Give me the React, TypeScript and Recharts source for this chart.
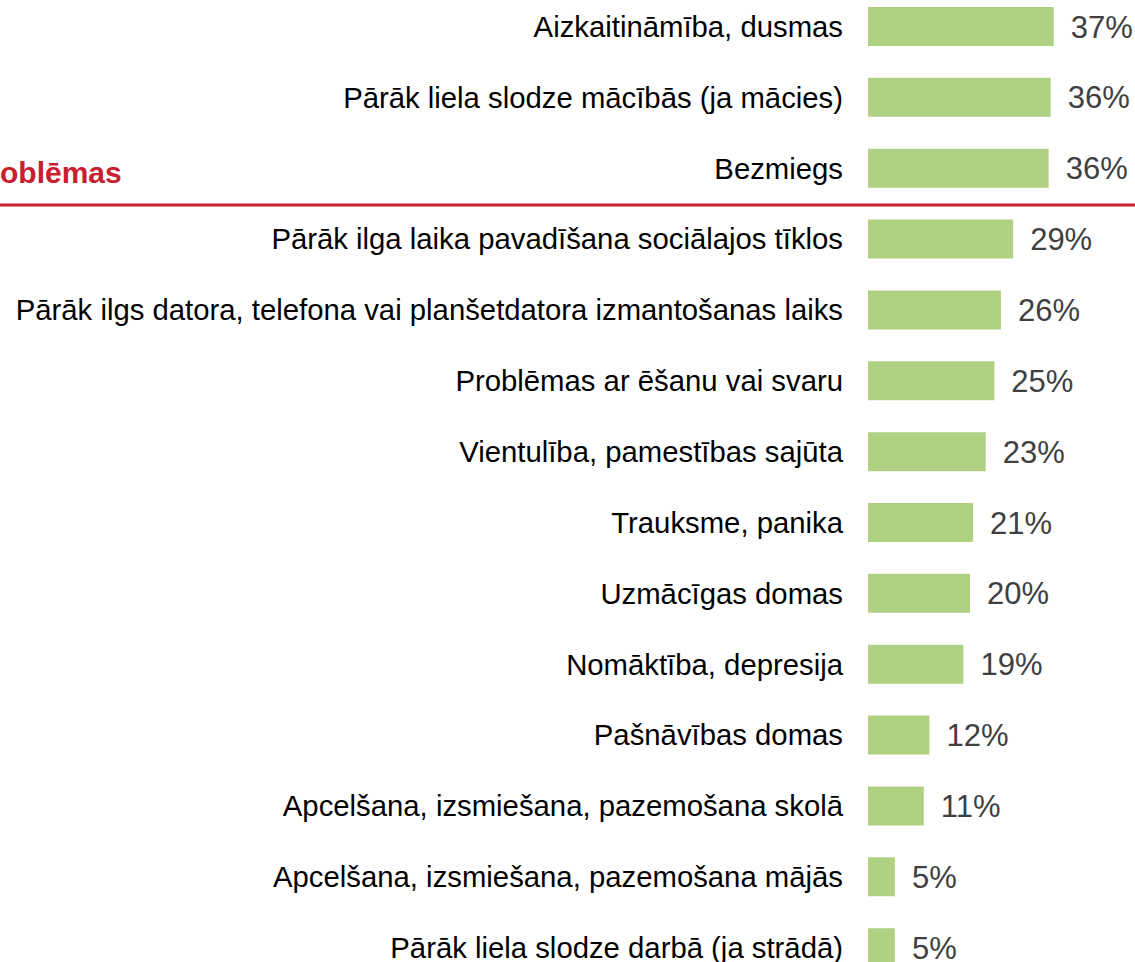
import React from 'react';
import { BarChart, Bar, XAxis, YAxis, LabelList } from 'recharts';

const categories = [
  'Aizkaitināmība, dusmas',
  'Pārāk liela slodze mācībās (ja mācies)',
  'Bezmiegs',
  'Pārāk ilga laika pavadīšana sociālajos tīklos',
  'Pārāk ilgs datora, telefona vai planšetdatora izmantošanas laiks',
  'Problēmas ar ēšanu vai svaru',
  'Vientulība, pamestības sajūta',
  'Trauksme, panika',
  'Uzmācīgas domas',
  'Nomāktība, depresija',
  'Pašnāvības domas',
  'Apcelšana, izsmiešana, pazemošana skolā',
  'Apcelšana, izsmiešana, pazemošana mājās',
  'Pārāk liela slodze darbā (ja strādā)',
];

const values = [36.6, 36.0, 35.6, 28.6, 26.2, 24.9, 23.2, 20.7, 20.1, 18.8, 12.1, 11.0, 5.3, 5.3];

const valueLabels = ['37%', '36%', '36%', '29%', '26%', '25%', '23%', '21%', '20%', '19%', '12%', '11%', '5%', '5%'];

const sectionTitle = 'Problēmas';

const data = categories.map((name, i) => ({ name, value: values[i], label: valueLabels[i] }));

const FONT = '"Liberation Sans", Arial, Helvetica, sans-serif';

export default function App() {
  return (
    <div
      style={{
        position: 'absolute',
        left: 0,
        top: 0,
        width: 1135,
        height: 962,
        overflow: 'hidden',
        background: '#ffffff',
      }}
    >
      <div style={{ position: 'absolute', left: 0, top: -9 }}>
        <BarChart
          layout="vertical"
          width={1135}
          height={992}
          data={data}
          margin={{ top: 0, right: 64, bottom: 0, left: 0 }}
          barSize={39}
        >
          <XAxis type="number" domain={[0, 40]} hide />
          <YAxis
            type="category"
            dataKey="name"
            width={868}
            axisLine={false}
            tickLine={false}
            tickSize={0}
            tickMargin={25}
            interval={0}
            tick={{ fill: '#000000', fontSize: 29.3, fontFamily: FONT }}
          />
          <Bar dataKey="value" fill="#b1d182" isAnimationActive={false}>
            <LabelList
              dataKey="label"
              position="right"
              offset={17}
              fill="#404040"
              fontSize={31}
              fontFamily={FONT}
            />
          </Bar>
        </BarChart>
      </div>
      <svg style={{ position: 'absolute', left: 0, top: 0 }} width={1135} height={962}>
        <text
          x={121.7}
          y={183.3}
          textAnchor="end"
          fill="#c8202e"
          fontWeight="bold"
          fontSize={30}
          fontFamily={FONT}
        >
          {sectionTitle}
        </text>
        <line x1={0} x2={1135} y1={205} y2={205} stroke="#c8202e" strokeWidth={3} />
      </svg>
    </div>
  );
}
